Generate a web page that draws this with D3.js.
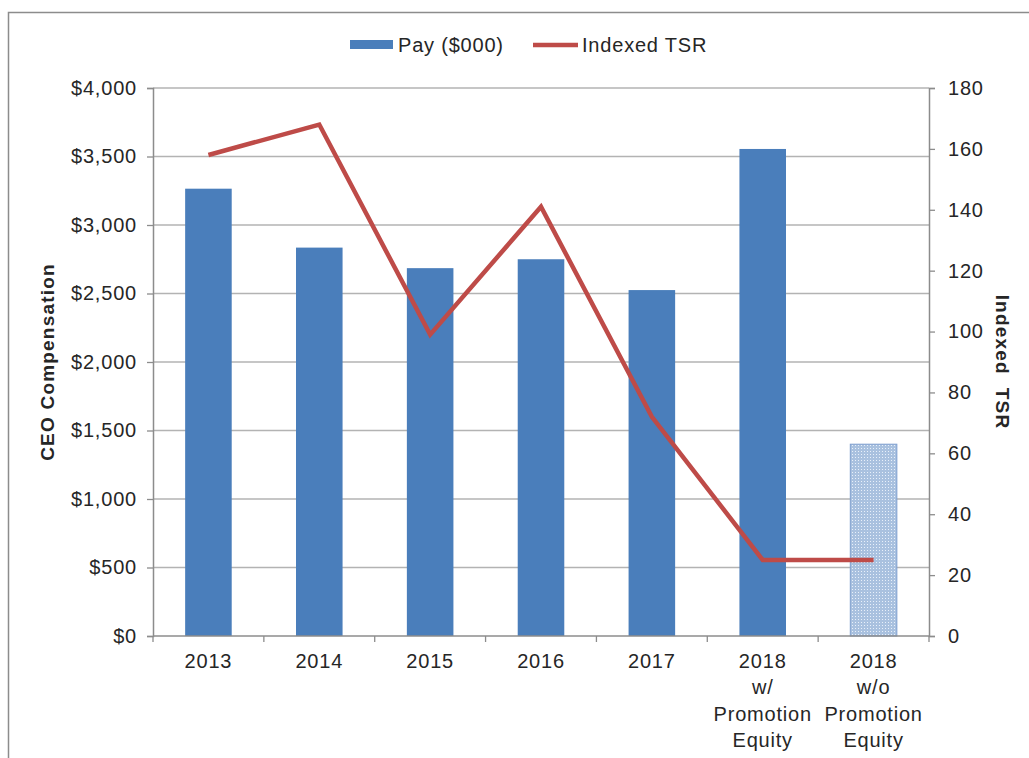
<!DOCTYPE html>
<html>
<head>
<meta charset="utf-8">
<script src="https://cdn.jsdelivr.net/npm/d3@7"></script>
<style>
  body { margin: 0; background: #fff; }
  svg text { font-family: "Liberation Sans", Arial, sans-serif; fill: #262626; }
</style>
</head>
<body>
<div id="chart"></div>
<script>
// chart data
var categories = ["2013", "2014", "2015", "2016", "2017", "2018 w/ Promotion Equity", "2018 w/o Promotion Equity"];
var categoryLines = [["2013"], ["2014"], ["2015"], ["2016"], ["2017"], ["2018", "w/", "Promotion", "Equity"], ["2018", "w/o", "Promotion", "Equity"]];
var payValues = [3265, 2835, 2685, 2750, 2525, 3555, 1400];
var tsrValues = [158, 168, 99, 141, 72, 25, 25];
var leftTicks = [0, 500, 1000, 1500, 2000, 2500, 3000, 3500, 4000];
var rightTicks = [0, 20, 40, 60, 80, 100, 120, 140, 160, 180];

var width = 1029, height = 758;
var margin = { top: 88, right: 100, bottom: 122, left: 153 };
var innerW = width - margin.left - margin.right;
var innerH = height - margin.top - margin.bottom;

var fontSize = "20px", spacing = "0.8px";

var svg = d3.select("#chart").append("svg")
    .attr("width", width)
    .attr("height", height);

// outer frame
svg.append("rect")
    .attr("x", 8.5).attr("y", 12.5)
    .attr("width", 1100).attr("height", 900)
    .attr("fill", "none")
    .attr("stroke", "#8c8c8c")
    .attr("stroke-width", 1.5);

var defs = svg.append("defs");
var pat = defs.append("pattern")
    .attr("id", "dots")
    .attr("width", 3).attr("height", 3)
    .attr("patternUnits", "userSpaceOnUse");
pat.append("rect").attr("width", 3).attr("height", 3).attr("fill", "#a9c1df");
pat.append("rect").attr("width", 1).attr("height", 1).attr("fill", "#e8f0fa");

var g = svg.append("g")
    .attr("transform", "translate(" + margin.left + "," + margin.top + ")");

var x = d3.scaleBand().domain(categories).range([0, innerW]);
var yL = d3.scaleLinear().domain([0, 4000]).range([innerH, 0]);
var yR = d3.scaleLinear().domain([0, 180]).range([innerH, 0]);

// gridlines
g.selectAll(".grid").data(leftTicks.slice(1)).enter().append("line")
    .attr("x1", 0).attr("x2", innerW)
    .attr("y1", function (d) { return yL(d); })
    .attr("y2", function (d) { return yL(d); })
    .attr("stroke", "#b3b3b3")
    .attr("stroke-width", 1.3);

// bars
var barW = x.bandwidth() * 0.42;
g.selectAll(".bar").data(payValues).enter().append("rect")
    .attr("x", function (d, i) { return x(categories[i]) + (x.bandwidth() - barW) / 2; })
    .attr("y", function (d) { return yL(d); })
    .attr("width", barW)
    .attr("height", function (d) { return innerH - yL(d); })
    .attr("fill", function (d, i) { return i == 6 ? "url(#dots)" : "#4a7ebb"; })
    .attr("stroke", function (d, i) { return i == 6 ? "#7f9fcf" : "none"; })
    .attr("stroke-width", 1);

// left axis
var leftAxis = g.append("g")
    .call(d3.axisLeft(yL).tickValues(leftTicks).tickSize(6).tickPadding(10)
        .tickFormat(function (d) { return "$" + d3.format(",")(d); }));
leftAxis.select(".domain").attr("stroke", "#8c8c8c").attr("stroke-width", 1.5);
leftAxis.selectAll(".tick line").attr("stroke", "#8c8c8c").attr("stroke-width", 1.3);
leftAxis.selectAll("text").style("font-size", fontSize).style("letter-spacing", spacing);

// right axis
var rightAxis = g.append("g")
    .attr("transform", "translate(" + innerW + ",0)")
    .call(d3.axisRight(yR).tickValues(rightTicks).tickSize(6).tickPadding(13));
rightAxis.select(".domain").attr("stroke", "#8c8c8c").attr("stroke-width", 1.5);
rightAxis.selectAll(".tick line").attr("stroke", "#8c8c8c").attr("stroke-width", 1.3);
rightAxis.selectAll("text").style("font-size", fontSize).style("letter-spacing", spacing);

// bottom axis
g.append("line")
    .attr("x1", 0).attr("x2", innerW)
    .attr("y1", innerH).attr("y2", innerH)
    .attr("stroke", "#8c8c8c").attr("stroke-width", 1.5);
g.selectAll(".xtick").data(categories.concat([null])).enter().append("line")
    .attr("x1", function (d, i) { return i * x.step(); })
    .attr("x2", function (d, i) { return i * x.step(); })
    .attr("y1", innerH).attr("y2", innerH + 6)
    .attr("stroke", "#8c8c8c").attr("stroke-width", 1.3);

var xl = g.selectAll(".xlab").data(categories).enter().append("text")
    .attr("text-anchor", "middle")
    .style("font-size", fontSize)
    .style("letter-spacing", spacing)
    .attr("transform", function (d) { return "translate(" + (x(d) + x.bandwidth() / 2) + "," + (innerH + 32) + ")"; });
xl.selectAll("tspan").data(function (d, i) { return categoryLines[i]; }).enter().append("tspan")
    .attr("x", 0)
    .attr("y", function (d, i) { return i * 26.3; })
    .text(function (d) { return d; });

// TSR line
var line = d3.line()
    .x(function (d, i) { return x(categories[i]) + x.bandwidth() / 2; })
    .y(function (d) { return yR(d); });
g.append("path")
    .datum(tsrValues)
    .attr("d", line)
    .attr("fill", "none")
    .attr("stroke", "#be4b48")
    .attr("stroke-width", 4.5)
    .attr("stroke-linejoin", "miter");

// axis titles
svg.append("text")
    .attr("transform", "translate(54," + (margin.top + innerH / 2) + ") rotate(-90)")
    .attr("text-anchor", "middle")
    .style("font-size", "19px")
    .style("font-weight", "bold")
    .style("letter-spacing", "1.2px")
    .text("CEO Compensation");
svg.append("text")
    .attr("transform", "translate(996," + (margin.top + innerH / 2) + ") rotate(90)")
    .attr("text-anchor", "middle")
    .style("font-size", "19px")
    .style("font-weight", "bold")
    .style("letter-spacing", "1.2px")
    .style("white-space", "pre")
    .text("Indexed  TSR");

// legend
var legend = svg.append("g");
legend.append("rect")
    .attr("x", 350).attr("y", 40)
    .attr("width", 43).attr("height", 9)
    .attr("fill", "#4a7ebb");
legend.append("text")
    .attr("x", 398).attr("y", 52)
    .style("font-size", fontSize)
    .style("letter-spacing", spacing)
    .text("Pay ($000)");
legend.append("line")
    .attr("x1", 533).attr("x2", 578)
    .attr("y1", 45).attr("y2", 45)
    .attr("stroke", "#be4b48").attr("stroke-width", 4.5);
legend.append("text")
    .attr("x", 582).attr("y", 52)
    .style("font-size", fontSize)
    .style("letter-spacing", spacing)
    .text("Indexed TSR");
</script>
</body>
</html>
